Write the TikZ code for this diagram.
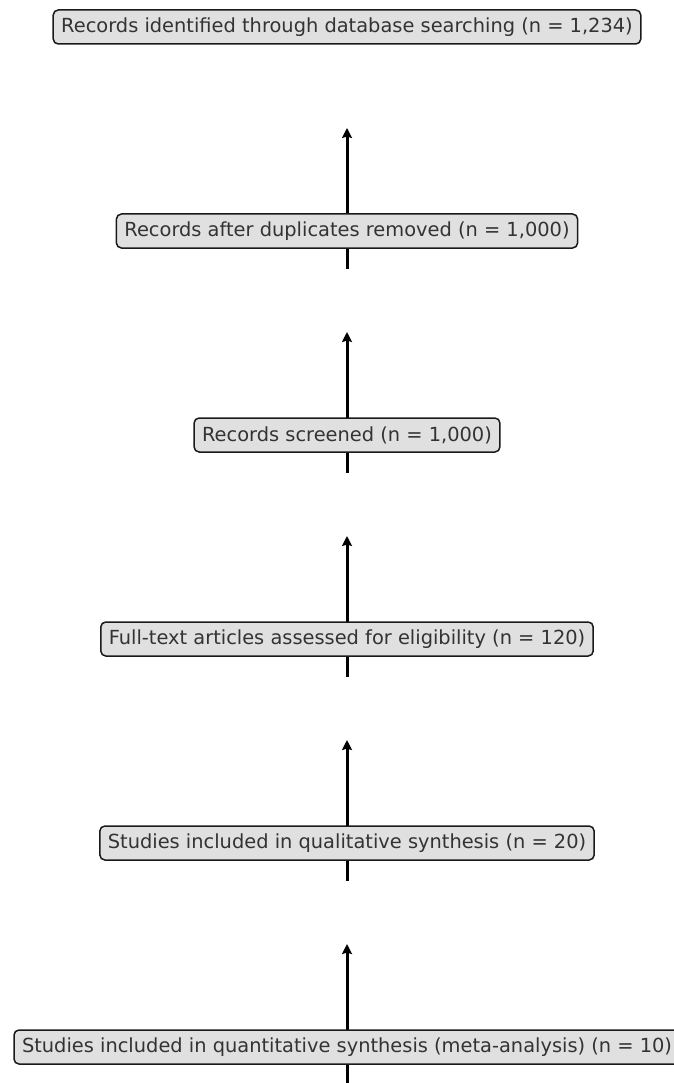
\documentclass[tikz,border=0pt]{standalone}
\usepackage{fontspec}
\setmainfont{DejaVu Sans}
\usetikzlibrary{arrows.meta}
\definecolor{boxfill}{HTML}{E0E0E0}
\definecolor{boxline}{HTML}{1A1A1A}
\definecolor{txt}{HTML}{333333}
\tikzset{
  stage/.style={draw=boxline, line width=1.5pt, fill=boxfill, rounded corners=5pt,
    inner xsep=8pt, inner ysep=0pt, minimum height=34pt, text=txt,
    font=\fontsize{19.4}{22}\selectfont},
  flow/.style={line width=3pt, -{Stealth[length=10pt,width=10pt,inset=1.5pt]}}
}
\begin{document}
\begin{tikzpicture}[x=1pt,y=-1pt]
\useasboundingbox (0,0) rectangle (673,1083);
% arrows drawn first (behind boxes)
\foreach \i/\c in {b/231,c/435,d/639,e/843,f/1047}{
  \coordinate (s\i) at (347,\c+38);
  \coordinate (t\i) at (347,\c-103);
  \draw[flow] (s\i) -- (t\i);
}
\node[stage] (a) at (347,27) {Records identified through database searching (n = 1,234)};
\node[stage] (b) at (347,231) {Records after duplicates removed (n = 1,000)};
\node[stage] (c) at (347,435) {Records screened (n = 1,000)};
\node[stage] (d) at (347,639) {Full-text articles assessed for eligibility (n = 120)};
\node[stage] (e) at (347,843) {Studies included in qualitative synthesis (n = 20)};
\node[stage] (f) at (347,1047) {Studies included in quantitative synthesis (meta-analysis) (n = 10)};
\end{tikzpicture}
\end{document}
